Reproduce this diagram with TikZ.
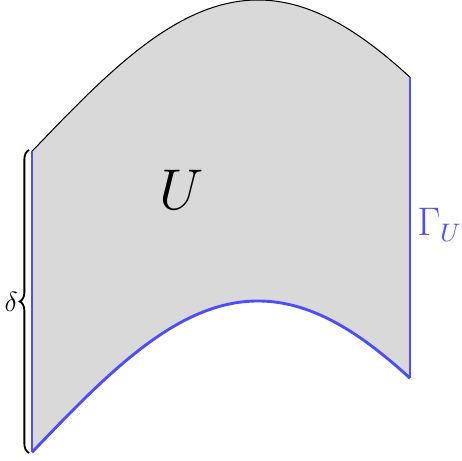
\documentclass[tikz,border=0pt]{standalone}
\usetikzlibrary{decorations.pathreplacing}
\begin{document}
\begin{tikzpicture}[x=0.4329pt,y=-0.4329pt,
  bluecol/.style={draw={rgb,255:red,77;green,77;blue,255}, line width=1.25pt},
  topline/.style={draw=black, line width=0.45pt},
  bracestyle/.style={draw=black, line width=0.8pt, decorate, decoration={brace, amplitude=4pt}}]
\useasboundingbox (0,0) rectangle (462,461);
\def\bot#1{301+147*(1-cos(deg(0.00708*(#1-258))))}
\coordinate (TL) at (32,{\bot{32}-301});
\coordinate (TR) at (410,{\bot{410}-301});
\coordinate (BL) at (32,{\bot{32}});
\coordinate (BR) at (410,{\bot{410}});
% fill
\fill[gray!30] plot[domain=32:410, samples=120, smooth] (\x,{\bot{\x}-301}) -- (BR)
  -- plot[domain=410:32, samples=120, smooth] (\x,{\bot{\x}}) -- cycle;
% top
\draw[topline] plot[domain=32:410, samples=120, smooth] (\x,{\bot{\x}-301});
% blue boundary
\draw[bluecol] (TL) -- (BL);
\draw[bluecol] plot[domain=32:410, samples=120, smooth] (\x,{\bot{\x}});
\draw[bluecol] (TR) -- (BR);
% brace
\coordinate (BB) at (29,453);
\coordinate (BT) at (29,150);
\draw[bracestyle] (BB) -- (BT) node[midway, left=4.5pt, inner sep=0pt] (delta) {\fontsize{11.5}{14}\selectfont $\delta$};
% labels
\node (U) at (182,190) {\fontsize{29}{34}\selectfont $U$};
\node[text={rgb,255:red,77;green,77;blue,255}, anchor=west, inner sep=0pt] (G) at (417,225) {\fontsize{16}{19}\selectfont $\Gamma_U$};
\end{tikzpicture}
\end{document}
